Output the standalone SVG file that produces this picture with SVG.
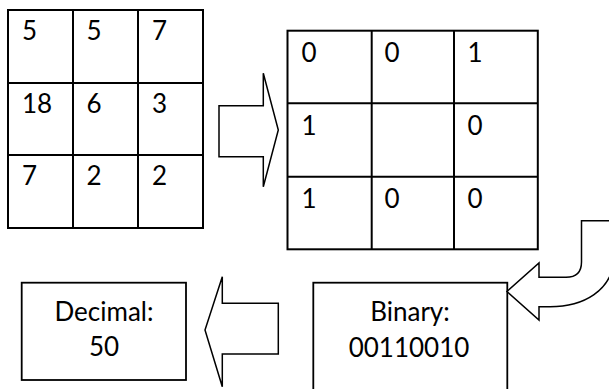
<svg xmlns="http://www.w3.org/2000/svg" width="609" height="389" viewBox="0 0 609 389">
<style>
  .grid { fill: #ffffff; stroke: #000000; stroke-width: 2; }
  .gl { stroke: #000000; stroke-width: 2; fill: none; }
  .box { fill: #ffffff; stroke: #000000; stroke-width: 1.8; }
  .arrow { fill: #ffffff; stroke: #000000; stroke-width: 1.5; stroke-linejoin: miter; }
  .t { font-family: Lato, "Open Sans", "Liberation Sans", sans-serif; font-size: 26px; fill: #000000; }
  .c { text-anchor: middle; }
</style>
<rect width="609" height="389" fill="#ffffff"/>

<g id="input-grid">
  <rect class="grid" x="8" y="10" width="195" height="218"/>
  <line class="gl" x1="73" y1="10" x2="73" y2="228"/>
  <line class="gl" x1="138" y1="10" x2="138" y2="228"/>
  <line class="gl" x1="8" y1="83" x2="203" y2="83"/>
  <line class="gl" x1="8" y1="155" x2="203" y2="155"/>
  <text class="t" x="22" y="40">5</text>
  <text class="t" x="86.5" y="40">5</text>
  <text class="t" x="152" y="40">7</text>
  <text class="t" x="22" y="113">18</text>
  <text class="t" x="86.5" y="113">6</text>
  <text class="t" x="152" y="113">3</text>
  <text class="t" x="22" y="185">7</text>
  <text class="t" x="86.5" y="185">2</text>
  <text class="t" x="152" y="185">2</text>
</g>

<g id="threshold-grid">
  <rect class="grid" x="287.5" y="30.7" width="250.3" height="218.6"/>
  <line class="gl" x1="371.7" y1="30.7" x2="371.7" y2="249.3"/>
  <line class="gl" x1="454" y1="30.7" x2="454" y2="249.3"/>
  <line class="gl" x1="287.5" y1="103.3" x2="537.8" y2="103.3"/>
  <line class="gl" x1="287.5" y1="176.7" x2="537.8" y2="176.7"/>
  <text class="t" x="301.5" y="62">0</text>
  <text class="t" x="384.5" y="62">0</text>
  <text class="t" x="467.5" y="62">1</text>
  <text class="t" x="301.5" y="135">1</text>
  <text class="t" x="467.5" y="135">0</text>
  <text class="t" x="301.5" y="208">1</text>
  <text class="t" x="384.5" y="208">0</text>
  <text class="t" x="467.5" y="208">0</text>
</g>

<g id="binary">
  <rect class="box" x="313.3" y="282.7" width="194" height="130"/>
  <text class="t c" x="410" y="321">Binary:</text>
  <text class="t c" x="409" y="357">00110010</text>
</g>

<g id="decimal">
  <rect class="box" x="21.7" y="282.7" width="164.3" height="97.3"/>
  <text class="t c" x="104" y="321">Decimal:</text>
  <text class="t c" x="104" y="356">50</text>
</g>

<g id="connectors">
  <path class="arrow" d="M219 105.7 L263.3 105.7 L263.3 73.3 L278.3 130 L263.3 186.7 L263.3 156.7 L219 156.7 Z"/>
  <path class="arrow" d="M620 220.7 L581.5 220.7 L581.5 262 Q581.5 277.3 566 277.3 L539 277.3 L539 263 L507 291.5 L539 320 L539 306.7 L550 306.7 C585 306.7 610 290 614 262 L620 262 Z"/>
  <path class="arrow" d="M278.3 303.3 L222.3 303.3 L222.3 276.7 L205 330 L222.3 386.7 L222.3 354 L278.3 354 Z"/>
</g>
</svg>
